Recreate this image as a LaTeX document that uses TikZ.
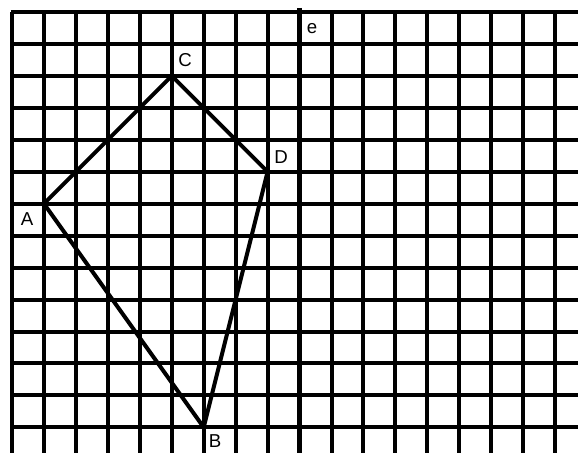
\documentclass[tikz,border=0pt]{standalone}
\usepackage{fontspec}
\setmainfont{Liberation Sans}
\begin{document}
\begin{tikzpicture}[x=0.75pt,y=-0.75pt,
  gridline/.style={line width=3pt,black},
  axisline/.style={line width=3.8pt,black},
  figline/.style={line width=3pt,black,line join=miter},
  lbl/.style={inner sep=0pt,font=\fontsize{14pt}{16pt}\selectfont}]
\useasboundingbox (0,0) rectangle (578,453);
\fill[white] (0,0) rectangle (578,453);
% vertical grid lines
\foreach \i in {0,...,17}{
  \draw[gridline] ({12+31.95*\i},12) -- ({12+31.95*\i},453);
}
% horizontal grid lines
\foreach \j in {0,...,13}{
  \draw[gridline] (10.5,{12+31.95*\j}) -- (578,{12+31.95*\j});
}
% axis e
\coordinate (etop) at ({12+31.95*9},8);
\coordinate (ebot) at ({12+31.95*9},453);
\draw[axisline] (etop) -- (ebot);
% vertices
\coordinate (A) at ({12+31.95*1},{12+31.95*6});
\coordinate (C) at ({12+31.95*5},{12+31.95*2});
\coordinate (D) at ({12+31.95*8},{12+31.95*5});
\coordinate (B) at ({12+31.95*6},{12+31.95*13});
\draw[figline] (A) -- (C) -- (D) -- (B) -- cycle;
% labels
\node[lbl] (lA) at (27,219) {A};
\node[lbl] (lB) at (215,441) {B};
\node[lbl] (lC) at (185,60) {C};
\node[lbl] (lD) at (281,157) {D};
\node[lbl] (le) at (312,29) {e};
\end{tikzpicture}
\end{document}
